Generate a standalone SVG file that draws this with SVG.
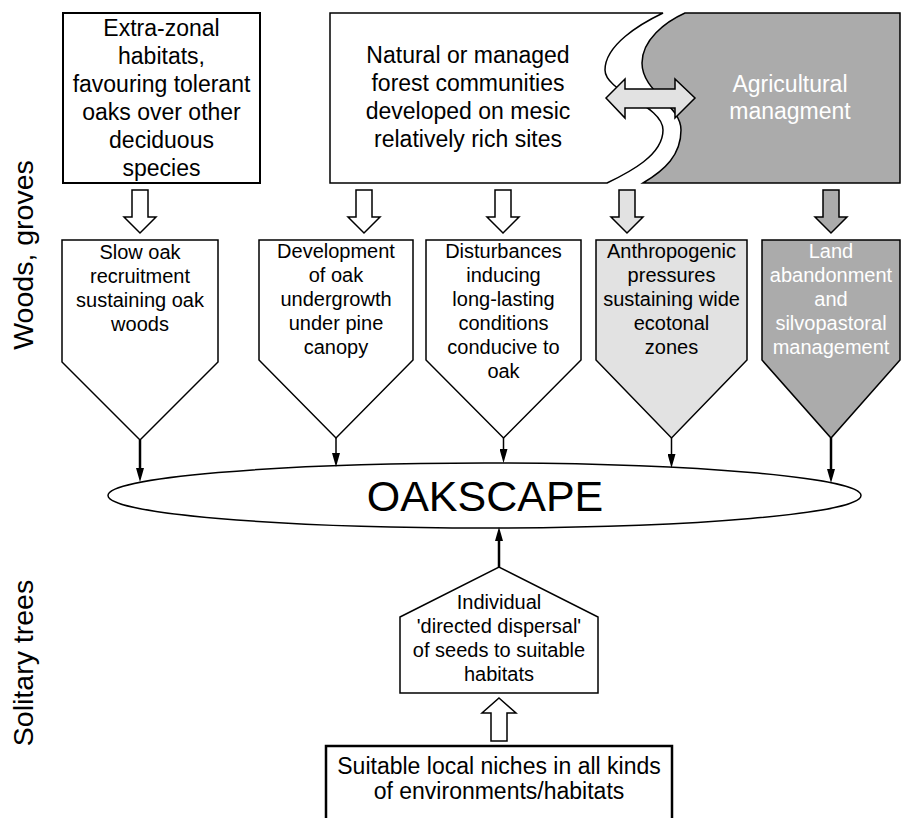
<svg xmlns="http://www.w3.org/2000/svg" width="906" height="818" viewBox="0 0 906 818">
<defs>
<style>
text{font-family:"Liberation Sans",Arial,sans-serif;fill:#000;text-anchor:middle}
.t23{font-size:23px}
.t20{font-size:20px}
.w{fill:#fff}
.box{fill:#fff;stroke:#000;stroke-width:1.5}
.lg{fill:#e2e2e2;stroke:#000;stroke-width:1.5}
.dg{fill:#ababab;stroke:#000;stroke-width:1.5}
.con{stroke:#000;stroke-width:1.5;fill:none}
.thick{stroke-width:2.5}
</style>
<marker id="ah" viewBox="0 0 14 8" refX="8" refY="4" markerWidth="14" markerHeight="8" markerUnits="userSpaceOnUse" orient="auto">
<path d="M0,0 L14,4 L0,8 z" fill="#000"/>
</marker>
</defs>
<rect width="906" height="818" fill="#fff"/>

<g id="label-woods"><text transform="translate(33,255) rotate(-90)" style="font-size:28.5px">Woods, groves</text></g>
<g id="label-solitary"><text transform="translate(33,663) rotate(-90)" style="font-size:28.5px">Solitary trees</text></g>

<g id="extrazonal">
<rect x="63" y="13" width="197" height="170" fill="#fff" stroke="#000" stroke-width="2"/>
<text class="t23" x="161.5" y="36">Extra-zonal</text>
<text class="t23" x="161.5" y="64">habitats,</text>
<text class="t23" x="161.5" y="92">favouring tolerant</text>
<text class="t23" x="161.5" y="120">oaks over other</text>
<text class="t23" x="161.5" y="148">deciduous</text>
<text class="t23" x="161.5" y="176">species</text>
</g>

<g id="natural">
<path class="box" d="M330,13 L663,13 C640,24 605,45 605,70 C605,92 663,105 663,130 C663,155 630,172 607,183 L330,183 Z"/>
<text class="t23" x="468" y="63">Natural or managed</text>
<text class="t23" x="468" y="91">forest communities</text>
<text class="t23" x="468" y="119">developed on mesic</text>
<text class="t23" x="468" y="147">relatively rich sites</text>
</g>

<g id="agricultural">
<path class="dg" d="M685,13 L900,13 L900,183 L643,183 C665,170 681,155 681,130 C681,105 642,92 642,63 C642,40 665,22 685,13 Z"/>
<text class="t23 w" x="790" y="92">Agricultural</text>
<text class="t23 w" x="790" y="119">managment</text>
</g>

<g id="exchange">
<polygon class="lg" points="606,98 625,79 625,89 675,89 675,79 695,98 675,118 675,108 625,108 625,118"/>
</g>

<g id="feed-arrows">
<polygon class="box" points="132,190 148,190 148,217 156,217 140,233 124,217 132,217"/>
<polygon class="box" points="356,190 372,190 372,217 380,217 364,233 348,217 356,217"/>
<polygon class="box" points="495,190 511,190 511,217 519,217 503,233 487,217 495,217"/>
<polygon class="lg" points="619,190 635,190 635,217 643,217 627,233 611,217 619,217"/>
<polygon class="dg" points="823,190 839,190 839,217 847,217 831,233 815,217 823,217"/>
</g>

<g id="slow-oak">
<polygon class="box" points="62,240 218,240 218,362 140,440 62,362"/>
<text class="t20" x="140" y="259">Slow oak</text>
<text class="t20" x="140" y="283">recruitment</text>
<text class="t20" x="140" y="307">sustaining oak</text>
<text class="t20" x="140" y="331">woods</text>
</g>

<g id="development">
<polygon class="box" points="259,240 413,240 413,360 336,438 259,360"/>
<text class="t20" x="336" y="258">Development</text>
<text class="t20" x="336" y="282">of oak</text>
<text class="t20" x="336" y="306">undergrowth</text>
<text class="t20" x="336" y="330">under pine</text>
<text class="t20" x="336" y="354">canopy</text>
</g>

<g id="disturbances">
<polygon class="box" points="426,240 581,240 581,360 503.5,438 426,360"/>
<text class="t20" x="503.5" y="258">Disturbances</text>
<text class="t20" x="503.5" y="282">inducing</text>
<text class="t20" x="503.5" y="306">long-lasting</text>
<text class="t20" x="503.5" y="330">conditions</text>
<text class="t20" x="503.5" y="354">conducive to</text>
<text class="t20" x="503.5" y="378">oak</text>
</g>

<g id="anthropogenic">
<polygon class="lg" points="596,240 747,240 747,360 671.5,438 596,360"/>
<text class="t20" x="671.5" y="258">Anthropogenic</text>
<text class="t20" x="671.5" y="282">pressures</text>
<text class="t20" x="671.5" y="306">sustaining wide</text>
<text class="t20" x="671.5" y="330">ecotonal</text>
<text class="t20" x="671.5" y="354">zones</text>
</g>

<g id="abandonment">
<polygon class="dg" points="762,240 900,240 900,360 831,438 762,360"/>
<text class="t20 w" x="831" y="258">Land</text>
<text class="t20 w" x="831" y="282">abandonment</text>
<text class="t20 w" x="831" y="306">and</text>
<text class="t20 w" x="831" y="330">silvopastoral</text>
<text class="t20 w" x="831" y="354">management</text>
</g>

<g id="oakscape">
<ellipse cx="484.5" cy="495.5" rx="376.5" ry="32.5" fill="#fff" stroke="#000" stroke-width="1.5"/>
<text x="485" y="511" style="font-size:43px">OAKSCAPE</text>
</g>

<g id="dispersal">
<polygon class="box" points="400,617 499,567 598,617 598,693 400,693"/>
<text class="t20" x="499" y="609">Individual</text>
<text class="t20" x="499" y="633">'directed dispersal'</text>
<text class="t20" x="499" y="657">of seeds to suitable</text>
<text class="t20" x="499" y="681">habitats</text>
</g>

<g id="up-arrow">
<polygon class="box" points="499,698 516,713 507,713 507,741 491,741 491,713 482,713"/>
</g>

<g id="niches">
<rect x="326" y="746" width="346" height="90" fill="#fff" stroke="#000" stroke-width="2.5"/>
<text class="t23" x="499" y="774">Suitable local niches in all kinds</text>
<text class="t23" x="499" y="799">of environments/habitats</text>
</g>

<g id="connectors">
<line class="con thick" x1="140" y1="440" x2="140" y2="476" marker-end="url(#ah)"/>
<line class="con" x1="336" y1="438" x2="336" y2="461" marker-end="url(#ah)"/>
<line class="con" x1="503.5" y1="438" x2="503.5" y2="457" marker-end="url(#ah)"/>
<line class="con" x1="671.5" y1="438" x2="671.5" y2="462" marker-end="url(#ah)"/>
<line class="con thick" x1="831" y1="438" x2="831" y2="477" marker-end="url(#ah)"/>
<line class="con thick" x1="499" y1="567" x2="499" y2="533" marker-end="url(#ah)"/>
</g>
</svg>
